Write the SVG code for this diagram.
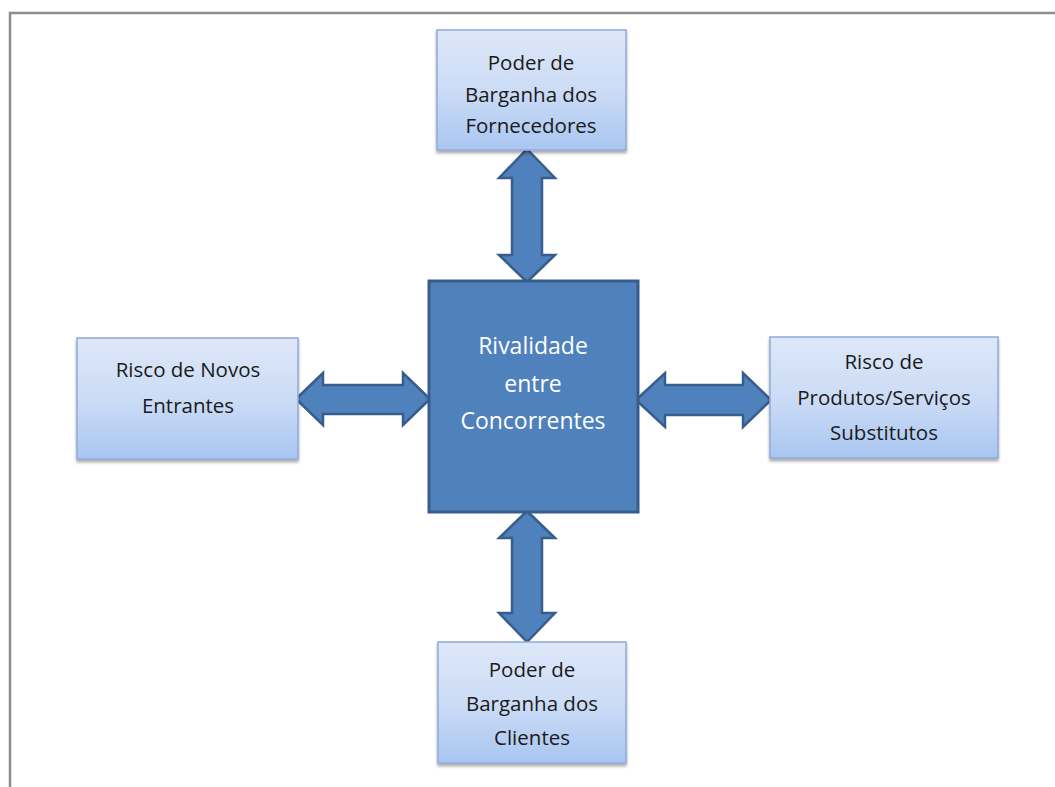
<svg xmlns="http://www.w3.org/2000/svg" width="1055" height="787" viewBox="0 0 1055 787">
<style>
.box{fill:url(#lg);stroke:#8EAAD6;stroke-width:1.5;filter:url(#sh)}
.main{fill:#4F81BD;stroke:#385D8A;stroke-width:3}
.arr{fill:#4F81BD;stroke:#385D8A;stroke-width:2.5;stroke-linejoin:miter}
.t{font-family:"Open Sans","Liberation Sans",sans-serif;font-size:20.5px;fill:#1a1a1a;text-anchor:middle}
.tw{font-family:"Open Sans","Liberation Sans",sans-serif;font-size:23px;fill:#ffffff;text-anchor:middle}
</style>
<defs>
<linearGradient id="lg" x1="0" y1="0" x2="0" y2="1">
<stop offset="0" stop-color="#DDE7F8"/>
<stop offset="0.5" stop-color="#CCDCF6"/>
<stop offset="1" stop-color="#A9C6F1"/>
</linearGradient>
<filter id="sh" x="-10%" y="-10%" width="120%" height="130%">
<feDropShadow dx="0" dy="2.5" stdDeviation="1.8" flood-color="#000" flood-opacity="0.35"/>
</filter>
</defs>
<rect width="1055" height="787" fill="#ffffff"/>
<path d="M10 787 V13 H1055" fill="none" stroke="#8c8c8c" stroke-width="2.5"/>
<g id="connectors">
<polygon class="arr" points="527,149 555,178 542,178 542,255 555,255 527,282 499,255 512,255 512,178 499,178"/>
<polygon class="arr" points="527,511 555,538 542,538 542,613 555,613 527,642 499,613 512,613 512,538 499,538"/>
<polygon class="arr" points="296,399 323,373 323,385 403,385 403,373 430,399 403,425 403,414 323,414 323,425"/>
<polygon class="arr" points="636,400 665,373 665,385 743,385 743,373 771,400 743,427 743,415 665,415 665,427"/>
</g>
<g id="node-center">
<rect class="main" x="429" y="281" width="209" height="231"/>
<text class="tw" x="533" y="354">Rivalidade</text>
<text class="tw" x="533" y="392">entre</text>
<text class="tw" x="533" y="429">Concorrentes</text>
</g>
<g id="node-top">
<rect class="box" x="437" y="30" width="189" height="120"/>
<text class="t" x="531" y="70">Poder de</text>
<text class="t" x="531" y="102">Barganha dos</text>
<text class="t" x="531" y="133">Fornecedores</text>
</g>
<g id="node-left">
<rect class="box" x="77" y="338" width="221" height="121"/>
<text class="t" x="188" y="377">Risco de Novos</text>
<text class="t" x="188" y="413">Entrantes</text>
</g>
<g id="node-right">
<rect class="box" x="770" y="337" width="228" height="121"/>
<text class="t" x="884" y="369">Risco de</text>
<text class="t" x="884" y="405">Produtos/Serviços</text>
<text class="t" x="884" y="440">Substitutos</text>
</g>
<g id="node-bottom">
<rect class="box" x="438" y="642" width="188" height="121"/>
<text class="t" x="532" y="677">Poder de</text>
<text class="t" x="532" y="711">Barganha dos</text>
<text class="t" x="532" y="745">Clientes</text>
</g>
</svg>
